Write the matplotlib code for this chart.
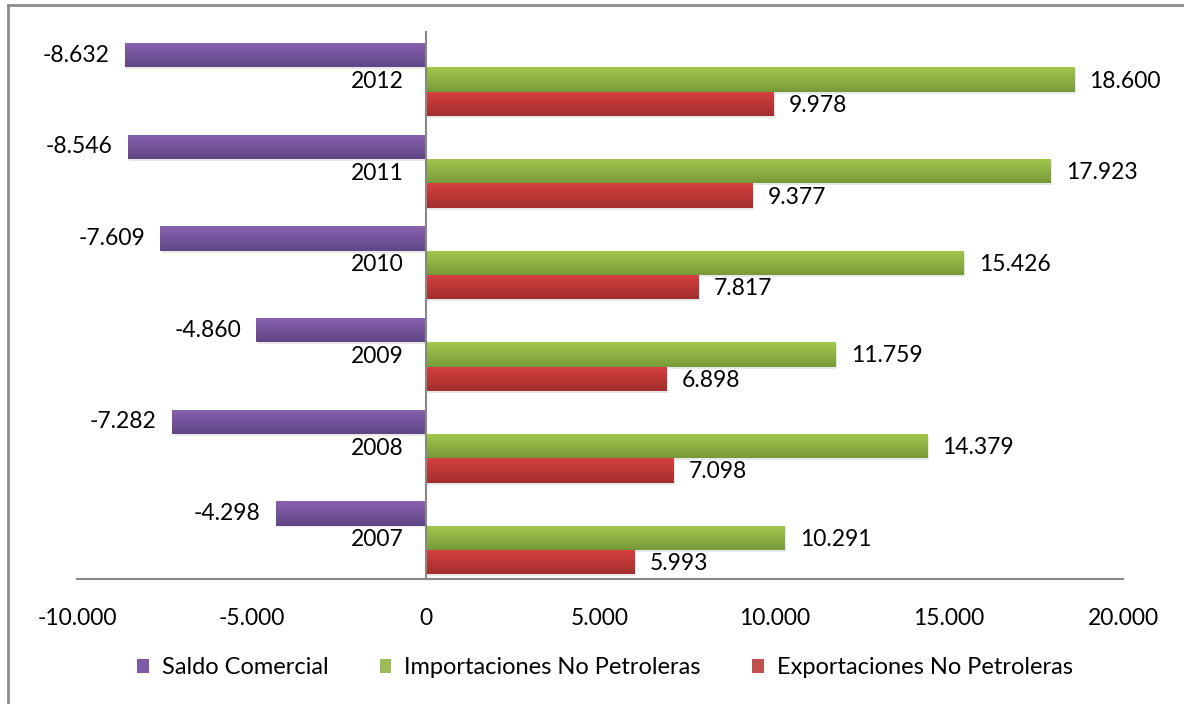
import numpy as np
import matplotlib
matplotlib.use("Agg")
import matplotlib.pyplot as plt
from matplotlib.colors import LinearSegmentedColormap
from matplotlib.patches import Rectangle, Patch
from matplotlib.ticker import FuncFormatter

plt.rcParams['font.family'] = ['Lato', 'DejaVu Sans']

years = ["2007", "2008", "2009", "2010", "2011", "2012"]
saldo = [-4298, -7282, -4860, -7609, -8546, -8632]
importaciones = [10291, 14379, 11759, 15426, 17923, 18600]
exportaciones = [5993, 7098, 6898, 7817, 9377, 9978]
series_names = ["Saldo Comercial", "Importaciones No Petroleras", "Exportaciones No Petroleras"]

# (top colour, bottom colour) for the Excel-like gradient
grad_colors = [("#8a62b0", "#5f4685"), ("#a3c94d", "#78993a"), ("#d84040", "#a32e2e")]
legend_colors = ["#7d5aa6", "#9bbb59", "#c0504d"]
fs = 16.5

fig = plt.figure(figsize=(11.84, 7.04), dpi=100)
# outer frame (only left and top visible in the reference)
fig.add_artist(plt.Line2D([8/1184, 8/1184], [0, 1 - 5/704], color="#8c8c8c", lw=2, transform=fig.transFigure))
fig.add_artist(plt.Line2D([8/1184, 1], [1 - 5/704, 1 - 5/704], color="#8c8c8c", lw=2, transform=fig.transFigure))

ax = fig.add_axes([77/1184, 1 - 579/704, (1123 - 77)/1184, (579 - 32)/704])

y = np.arange(len(years))
h = 0.266
offsets = [h, 0, -h]
grad = np.linspace(0, 1, 64).reshape(-1, 1)

for vals, off, (c_top, c_bot) in zip([saldo, importaciones, exportaciones], offsets, grad_colors):
    cmap = LinearSegmentedColormap.from_list("g", [c_top, c_bot])
    # light shadow under each bar
    for yi, v in zip(y, vals):
        ax.add_patch(Rectangle((min(0, v) + 50, yi + off - h/2 - 0.02), abs(v), h,
                               facecolor="#000000", alpha=0.09, lw=0, zorder=1))
    bars = ax.barh(y + off, vals, height=h, color=c_bot, lw=0, zorder=2)
    for p in bars:
        x0, y0 = p.get_x(), p.get_y()
        im = ax.imshow(grad, extent=[x0, x0 + p.get_width(), y0, y0 + p.get_height()],
                       aspect="auto", cmap=cmap, origin="upper", zorder=3)
        im.set_clip_path(p)
    for yi, v in zip(y, vals):
        lab = f"{v:,}".replace(",", ".")
        if v < 0:
            ax.annotate(lab, (v, yi + off), xytext=(-11, 0), textcoords="offset points",
                        ha="right", va="center", fontsize=fs)
        else:
            ax.annotate(lab, (v, yi + off), xytext=(11, -1), textcoords="offset points",
                        ha="left", va="center", fontsize=fs)

ax.set_xlim(-10000, 20000)
ax.set_ylim(-0.45, 5.52)
ax.set_xticks(np.arange(-10000, 20001, 5000))
ax.xaxis.set_major_formatter(FuncFormatter(lambda v, p: f"{int(v):,}".replace(",", ".")))
ax.set_yticks(y)
ax.set_yticklabels(years)
ax.tick_params(axis="x", length=0, pad=21, labelsize=fs)
ax.tick_params(axis="y", length=0, pad=16, labelsize=fs)

for s in ["top", "right"]:
    ax.spines[s].set_visible(False)
ax.spines["left"].set_position(("data", 0))
ax.spines["left"].set_color("#888888")
ax.spines["bottom"].set_color("#888888")
ax.spines["left"].set_linewidth(1.5)
ax.spines["bottom"].set_linewidth(1.5)
ax.spines["left"].set_zorder(4)

handles = [Patch(facecolor=c, edgecolor="none") for c in legend_colors]
fig.legend(handles, series_names, loc="center", bbox_to_anchor=(605/1184, 1 - 668/704),
           ncol=3, frameon=False, fontsize=17, handlelength=0.5, handleheight=0.5,
           handletextpad=0.55, columnspacing=2.15)

fig.savefig("out.png", dpi=100)
